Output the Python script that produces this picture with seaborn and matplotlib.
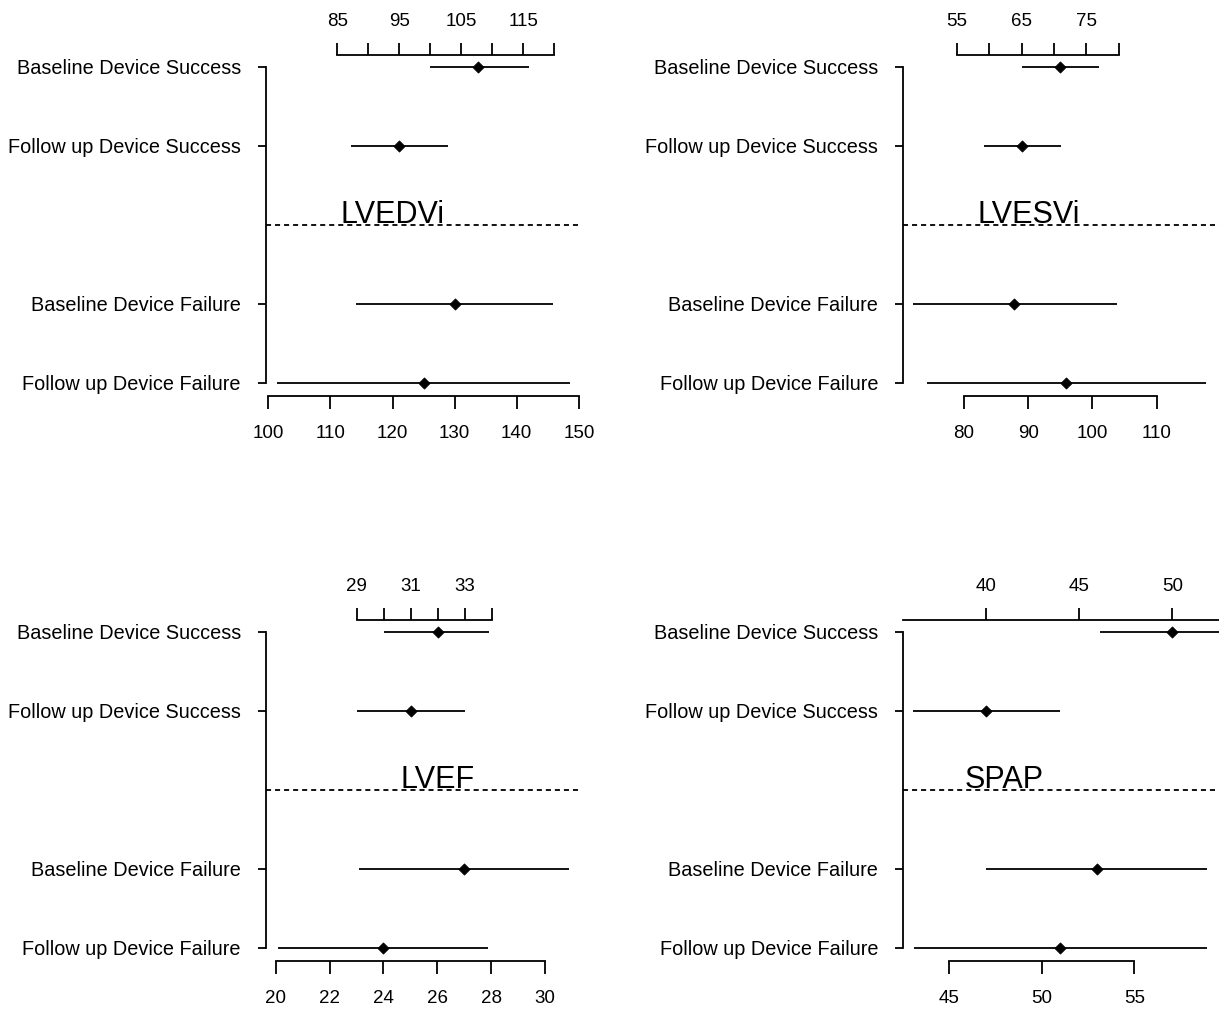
import matplotlib
matplotlib.use("Agg")
import matplotlib.pyplot as plt
import pandas as pd
import seaborn as sns

# row labels, top two are read on the upper axis, bottom two on the lower axis
rows = ["Baseline Device Success", "Follow up Device Success",
        "Baseline Device Failure", "Follow up Device Failure"]
groups = ["success", "success", "failure", "failure"]

# LVEDVi
lvedvi_mean = [107.7, 95.0, 130.0, 125.0]
lvedvi_low = [100.0, 87.2, 114.2, 101.4]
lvedvi_high = [115.9, 102.8, 145.9, 148.6]
lvedvi_top_ticks = [85, 90, 95, 100, 105, 110, 115, 120]
lvedvi_top_labels = ["85", "", "95", "", "105", "", "115", ""]
lvedvi_bot_ticks = [100, 110, 120, 130, 140, 150]

# LVESVi
lvesvi_mean = [70.9, 65.1, 87.8, 95.9]
lvesvi_low = [65.1, 59.2, 72.1, 74.3]
lvesvi_high = [77.0, 71.1, 103.9, 117.7]
lvesvi_top_ticks = [55, 60, 65, 70, 75, 80]
lvesvi_top_labels = ["55", "", "65", "", "75", ""]
lvesvi_bot_ticks = [80, 90, 100, 110]

# LVEF
lvef_mean = [32.0, 31.0, 27.0, 24.0]
lvef_low = [30.0, 29.0, 23.1, 20.1]
lvef_high = [33.9, 33.0, 30.9, 27.9]
lvef_top_ticks = [29, 30, 31, 32, 33, 34]
lvef_top_labels = ["29", "", "31", "", "33", ""]
lvef_bot_ticks = [20, 22, 24, 26, 28, 30]

# SPAP
spap_mean = [50.0, 40.0, 53.0, 51.0]
spap_low = [46.1, 36.1, 47.0, 43.1]
spap_high = [54.0, 44.0, 58.9, 58.9]
spap_top_ticks = [40, 45, 50]
spap_top_labels = ["40", "45", "50"]
spap_bot_ticks = [45, 50, 55]

sns.set_style("white")
plt.rcParams["font.family"] = ["Liberation Sans", "DejaVu Sans"]
plt.rcParams["text.color"] = "black"
plt.rcParams["xtick.labelcolor"] = "black"
plt.rcParams["ytick.labelcolor"] = "black"

W, H = 1219, 1013
fig = plt.figure(figsize=(W / 100, H / 100), dpi=100)

row_pos = [1, 2, 4, 5]
LW = 1.3

panels = [
    dict(name="LVEDVi", mean=lvedvi_mean, low=lvedvi_low, high=lvedvi_high,
         px=(266, 55, 580, 396), xlim_bot=(99.63, 150.19), xlim_top=(73.5, 124.15),
         top_ticks=lvedvi_top_ticks, top_labels=lvedvi_top_labels, top_bounds=(85, 120),
         bot_ticks=lvedvi_bot_ticks, title_x=120),
    dict(name="LVESVi", mean=lvesvi_mean, low=lvesvi_low, high=lvesvi_high,
         px=(903, 55, 1219, 396), xlim_bot=(70.5, 119.72), xlim_top=(46.71, 95.48),
         top_ticks=lvesvi_top_ticks, top_labels=lvesvi_top_labels, top_bounds=(55, 80),
         bot_ticks=lvesvi_bot_ticks, title_x=90),
    dict(name="LVEF", mean=lvef_mean, low=lvef_low, high=lvef_high,
         px=(266, 620, 580, 961), xlim_bot=(19.64, 31.30), xlim_top=(25.64, 37.27),
         top_ticks=lvef_top_ticks, top_labels=lvef_top_labels, top_bounds=(29, 34),
         bot_ticks=lvef_bot_ticks, title_x=26),
    dict(name="SPAP", mean=spap_mean, low=spap_low, high=spap_high,
         px=(903, 620, 1219, 961), xlim_bot=(42.52, 59.57), xlim_top=(35.57, 52.5),
         top_ticks=spap_top_ticks, top_labels=spap_top_labels, top_bounds=None,
         bot_ticks=spap_bot_ticks, title_x=48),
]


def draw_panel(p):
    l, t, r, b = p["px"]
    ax = fig.add_axes([l / W, 1 - b / H, (r - l) / W, (b - t) / H])
    top = ax.twiny()

    df = pd.DataFrame({"row": rows, "group": groups, "y": row_pos,
                       "mean": p["mean"], "low": p["low"], "high": p["high"]})
    for a, grp in [(top, "success"), (ax, "failure")]:
        d = df[df["group"] == grp]
        a.hlines(d["y"], d["low"], d["high"], color="black", lw=LW)
        sns.scatterplot(data=d, x="mean", y="y", ax=a, marker="D", s=32,
                        color="black", edgecolor="black", linewidth=0.6, zorder=3)
        a.set_xlabel("")
        a.set_ylabel("")

    ax.axhline(3, color="black", lw=1.3, ls=(0, (2.8, 2.2)))
    ax.text(p["title_x"], 2.98, p["name"], ha="center", va="baseline", fontsize=22)

    ax.set_xlim(*p["xlim_bot"])
    top.set_xlim(*p["xlim_top"])
    ax.set_ylim(5.17, 0.85)

    # lower axis and row labels
    ax.set_xticks(p["bot_ticks"])
    ax.set_xticklabels([str(v) for v in p["bot_ticks"]])
    ax.set_yticks(row_pos)
    ax.set_yticklabels(rows)
    ax.tick_params(axis="x", direction="out", length=9, width=LW, pad=12,
                   labelsize=13.5, color="black", bottom=True)
    ax.tick_params(axis="y", direction="out", length=6, width=LW, pad=12,
                   labelsize=14.3, color="black", left=True)
    for s in ["top", "right"]:
        ax.spines[s].set_visible(False)
    ax.spines["left"].set_bounds(1, 5)
    ax.spines["bottom"].set_bounds(p["bot_ticks"][0], p["bot_ticks"][-1])
    for s in ["left", "bottom"]:
        ax.spines[s].set_linewidth(LW)
        ax.spines[s].set_color("black")

    # upper axis
    top.set_xticks(p["top_ticks"])
    top.set_xticklabels(p["top_labels"])
    top.tick_params(axis="x", direction="out", length=9, width=LW, pad=9,
                    labelsize=13.5, color="black", top=True)
    for s in ["left", "right", "bottom"]:
        top.spines[s].set_visible(False)
    if p["top_bounds"] is not None:
        top.spines["top"].set_bounds(*p["top_bounds"])
    top.spines["top"].set_linewidth(LW)
    top.spines["top"].set_color("black")


for p in panels:
    draw_panel(p)

fig.savefig("out.png", dpi=100)
